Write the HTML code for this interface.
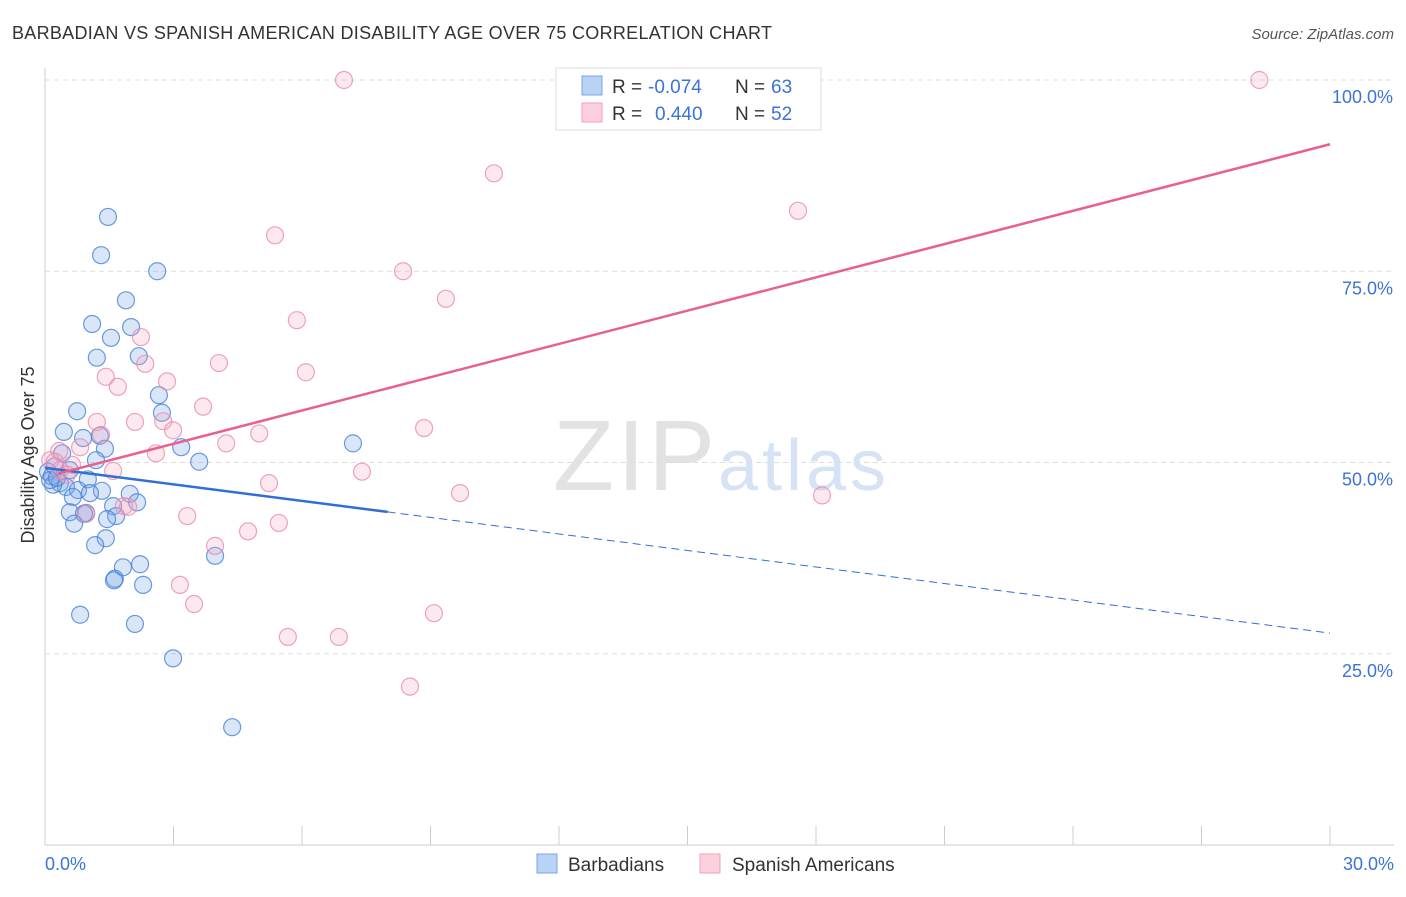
<!DOCTYPE html>
<html><head><meta charset="utf-8"><style>
body{margin:0;background:#fff;font-family:"Liberation Sans",sans-serif;}
svg text{font-family:"Liberation Sans",sans-serif;}
</style></head><body>
<svg id="chart" width="1406" height="892">
<text x="12" y="39" font-size="18" fill="#333" textLength="760">BARBADIAN VS SPANISH AMERICAN DISABILITY AGE OVER 75 CORRELATION CHART</text>
<text x="1394" y="39" font-size="15" fill="#555" font-style="italic" text-anchor="end">Source: ZipAtlas.com</text>
<text x="553" y="490" font-size="100" fill="#e2e2e2" font-family="Liberation Serif" textLength="162">ZIP</text>
<text x="718" y="490" font-size="72" fill="#d6e3f5" textLength="168">atlas</text>
<g id="grid"></g>
<g id="axes"></g>
<g id="marks"></g>
<text transform="translate(34,455) rotate(-90)" font-size="18" fill="#333" text-anchor="middle">Disability Age Over 75</text>
<text x="45" y="870" font-size="18" fill="#3b73d6">0.0%</text>
<text x="1394" y="870" font-size="18" fill="#3b73d6" text-anchor="end">30.0%</text>
<g>
<rect x="556" y="68" width="265" height="62" fill="#fff" stroke="#ddd"/>
<rect x="582" y="76" width="20" height="19" fill="#b9d3f5" stroke="#7aa5e6"/>
<rect x="582" y="103" width="20" height="19" fill="#fcd0dc" stroke="#f0a0b8"/>
<text x="612" y="93" font-size="19" fill="#333">R =</text>
<text x="648" y="93" font-size="19" fill="#3b73d6">-0.074</text>
<text x="735" y="93" font-size="19" fill="#333">N =</text>
<text x="771" y="93" font-size="19" fill="#3b73d6">63</text>
<text x="612" y="120" font-size="19" fill="#333">R =</text>
<text x="655" y="120" font-size="19" fill="#3b73d6">0.440</text>
<text x="735" y="120" font-size="19" fill="#333">N =</text>
<text x="771" y="120" font-size="19" fill="#3b73d6">52</text>
</g>
<g>
<rect x="537" y="854" width="20" height="19" fill="#b9d3f5" stroke="#7aa5e6"/>
<text x="568" y="871" font-size="19" fill="#333">Barbadians</text>
<rect x="700" y="854" width="20" height="19" fill="#fcd0dc" stroke="#f0a0b8"/>
<text x="732" y="871" font-size="19" fill="#333">Spanish Americans</text>
</g>
</svg>
<script>
const yTicks=[25,50,75,100];
const yTickLabels=["25.0%","50.0%","75.0%","100.0%"];
const xTicks=[0,3,6,9,12,15,18,21,24,27,30];
const blueX=[1.47,1.31,2.62,1.89,1.10,2.01,1.54,1.21,2.19,2.66,0.75,2.73,0.44,1.28,0.89,3.18,1.40,0.40,1.19,3.60,0.23,0.58,0.07,0.16,1.00,0.35,0.49,0.19,0.77,1.33,1.05,1.98,0.65,2.15,1.59,0.58,0.96,0.91,1.66,1.45,0.68,1.42,1.17,3.97,2.22,1.82,1.63,1.61,2.29,0.82,2.10,2.99,4.37,7.19,0.12,0.28];
const blueY=[82.1,77.1,75.0,71.2,68.1,67.7,66.3,63.7,63.9,58.8,56.7,56.5,54.0,53.5,53.2,52.0,51.8,51.2,50.3,50.1,49.5,49.0,48.8,48.2,47.8,47.3,46.8,47.1,46.4,46.3,46.0,45.9,45.5,44.8,44.3,43.5,43.4,43.3,43.0,42.6,42.0,40.1,39.2,37.8,36.7,36.3,34.8,34.6,34.0,30.1,28.9,24.4,15.4,52.5,47.7,48.0];
const pinkX=[6.98,28.35,10.48,17.58,5.37,8.36,9.36,5.88,2.24,4.06,2.34,6.09,1.42,2.85,1.70,3.69,1.21,2.10,2.76,8.85,2.99,5.00,1.31,4.23,0.82,0.33,2.59,0.12,0.63,7.40,1.59,5.23,9.69,18.14,1.84,1.94,0.96,3.32,5.46,4.74,3.97,3.15,3.48,9.08,5.67,6.86,8.52,0.35,0.51,0.23];
const pinkY=[100,100,87.8,82.9,79.7,75.0,71.4,68.6,66.4,63.0,62.9,61.8,61.2,60.6,59.9,57.3,55.3,55.3,55.4,54.5,54.2,53.8,53.6,52.5,52.0,51.5,51.2,50.3,49.7,48.8,48.9,47.3,46.0,45.7,44.3,44.2,43.3,43.0,42.1,41.0,39.1,34.0,31.5,30.3,27.2,27.2,20.7,49.0,48.4,50.1];
const blueTrend=[49.3,-0.72];
const pinkTrend=[48.1,1.45];
const NS="http://www.w3.org/2000/svg";
const sx=v=>45+v/30*1285;
const sy=v=>845-v/100*765;
function mk(tag,attrs,parent){const e=document.createElementNS(NS,tag);for(const k in attrs)e.setAttribute(k,attrs[k]);parent.appendChild(e);return e;}
const grid=document.getElementById('grid'),axes=document.getElementById('axes'),marks=document.getElementById('marks');
yTicks.forEach((t,i)=>{
 const l=mk('line',{x1:45,x2:1394,y1:sy(t),y2:sy(t),stroke:'#ddd','stroke-dasharray':'5,4'},grid);
 
 
 const tx=mk('text',{x:1393,y:sy(t)+23,'font-size':18,fill:'#3b73d6','text-anchor':'end'},axes);
 tx.textContent=yTickLabels[i];
 
 
});
const ya=mk('line',{x1:45,x2:45,y1:68,y2:845,stroke:'#ccc'},axes);


const xa=mk('line',{x1:45,x2:1394,y1:845,y2:845,stroke:'#ccc'},axes);


xTicks.forEach(t=>{
 const l=mk('line',{x1:sx(t),x2:sx(t),y1:826,y2:845,stroke:'#ccc'},axes);
 
 
});
blueX.forEach((x,i)=>{
 const c=mk('circle',{cx:sx(x),cy:sy(blueY[i]),r:8.5,fill:'rgba(120,165,230,0.28)',stroke:'rgba(70,130,215,0.8)','stroke-width':1.2},marks);
 
 
});
pinkX.forEach((x,i)=>{
 const c=mk('circle',{cx:sx(x),cy:sy(pinkY[i]),r:8.5,fill:'rgba(245,165,190,0.25)',stroke:'rgba(232,140,172,0.8)','stroke-width':1.2},marks);
 
 
});
const bt=x=>blueTrend[0]+blueTrend[1]*x, pt=x=>pinkTrend[0]+pinkTrend[1]*x;
const b1=mk('line',{x1:sx(0),y1:sy(bt(0)),x2:sx(8),y2:sy(bt(8)),stroke:'#2f6fd6','stroke-width':2.5},marks);


const b2=mk('line',{x1:sx(8),y1:sy(bt(8)),x2:sx(30),y2:sy(bt(30)),stroke:'#2f6fd6','stroke-width':1,'stroke-dasharray':'8,5'},marks);


const p1=mk('line',{x1:sx(0.3),y1:sy(pt(0.3)),x2:sx(30),y2:sy(pt(30)),stroke:'#e8608c','stroke-width':2.5},marks);


</script>
</body></html>
